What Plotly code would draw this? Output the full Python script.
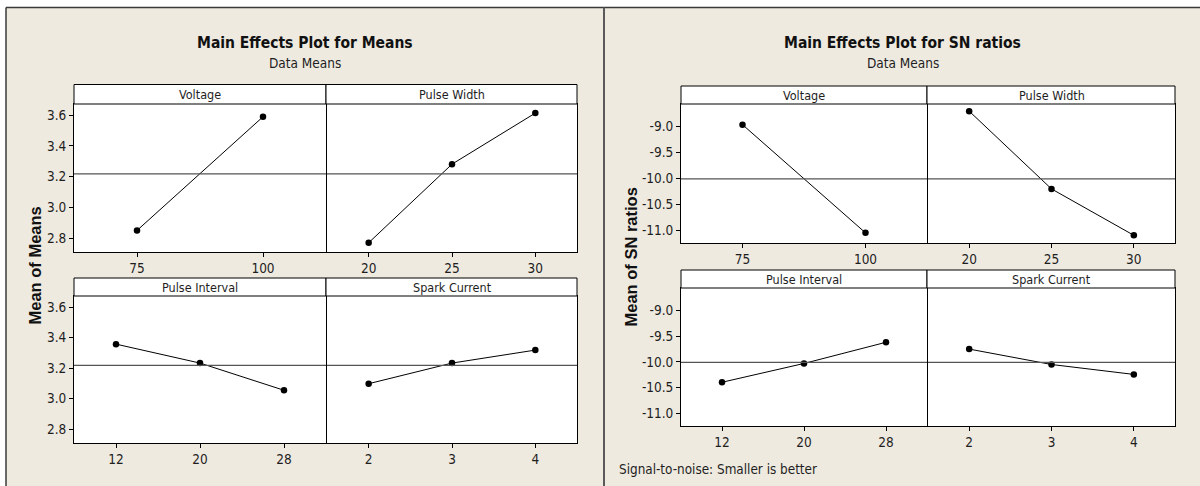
import numpy as np
import plotly.graph_objects as go

W, H = 1200, 486

# ---------------- data ----------------
factors = ["Voltage", "Pulse Width", "Pulse Interval", "Spark Current"]
voltage_levels = ["75", "100"]
pulse_width_levels = ["20", "25", "30"]
pulse_interval_levels = ["12", "20", "28"]
spark_current_levels = ["2", "3", "4"]

means_voltage = [2.850, 3.589]
means_pulse_width = [2.770, 3.281, 3.613]
means_pulse_interval = [3.357, 3.233, 3.055]
means_spark_current = [3.098, 3.233, 3.318]

sn_voltage = [-8.967, -11.045]
sn_pulse_width = [-8.707, -10.201, -11.092]
sn_pulse_interval = [-10.394, -10.030, -9.620]
sn_spark_current = [-9.752, -10.050, -10.242]

means_y_ticks = [2.8, 3.0, 3.2, 3.4, 3.6]
sn_y_ticks = [-11.0, -10.5, -10.0, -9.5, -9.0]

left_title = "Main Effects Plot for Means"
right_title = "Main Effects Plot for SN ratios"
subtitle = "Data Means"
left_ytitle = "Mean of Means"
right_ytitle = "Mean of SN ratios"
footnote = "Signal-to-noise: Smaller is better"

levels = [voltage_levels, pulse_width_levels, pulse_interval_levels, spark_current_levels]
means_all = [means_voltage, means_pulse_width, means_pulse_interval, means_spark_current]
sn_all = [sn_voltage, sn_pulse_width, sn_pulse_interval, sn_spark_current]

grand_means = float(np.mean([np.mean(v) for v in means_all]))
grand_sn = float(np.mean([np.mean(v) for v in sn_all]))

# ---------------- layout helpers ----------------
def fx(px):
    return px / W

def fy(py):
    return 1 - py / H

NARROW = "DejaVu Sans Condensed, DejaVu Sans, sans-serif"
BOLD_SANS = "Liberation Sans, Arial, sans-serif"
BG = "#EEEAE0"
TXT = "#1e1e1e"

# chart geometry in pixels: columns (x0,x1) and rows (header_top, plot_top, plot_bottom)
charts = [
    dict(cols=[(74, 326), (327, 577)],
         rows=[(84.5, 104, 252), (278, 296, 443)],
         data=means_all, yrange=[2.71, 3.672], yticks=means_y_ticks, ref=grand_means),
    dict(cols=[(681, 927), (928, 1175)],
         rows=[(86, 104, 243), (270, 288, 426)],
         data=sn_all, yrange=[-11.24, -8.57], yticks=sn_y_ticks, ref=grand_sn),
]

fig = go.Figure()
layout = {}
shapes = []
annotations = []

# white strips at top/left outside the beige window
shapes.append(dict(type="rect", xref="paper", yref="paper", x0=0, x1=1, y0=fy(7.5), y1=1,
                   fillcolor="white", line=dict(width=0), layer="below"))
shapes.append(dict(type="rect", xref="paper", yref="paper", x0=0, x1=fx(6), y0=0, y1=1,
                   fillcolor="white", line=dict(width=0), layer="below"))
# window borders
shapes.append(dict(type="line", xref="paper", yref="paper", x0=fx(6), x1=1, y0=fy(7.5), y1=fy(7.5),
                   line=dict(color="#3a3a3a", width=1.5)))
shapes.append(dict(type="line", xref="paper", yref="paper", x0=fx(6), x1=fx(6), y0=0, y1=fy(7.5),
                   line=dict(color="#3a3a3a", width=1.5)))
shapes.append(dict(type="line", xref="paper", yref="paper", x0=fx(604), x1=fx(604), y0=0, y1=fy(7.5),
                   line=dict(color="#5a5a5a", width=2)))

ax = 0
for chart in charts:
    for r, (htop, ptop, pbot) in enumerate(chart["rows"]):
        for c, (x0, x1) in enumerate(chart["cols"]):
            k = r * 2 + c
            ax += 1
            xa = "x" if ax == 1 else f"x{ax}"
            ya = "y" if ax == 1 else f"y{ax}"
            xkey = "xaxis" if ax == 1 else f"xaxis{ax}"
            ykey = "yaxis" if ax == 1 else f"yaxis{ax}"
            lv = levels[k]
            vals = chart["data"][k]
            fig.add_trace(go.Scatter(
                x=lv, y=vals, xaxis=xa, yaxis=ya, mode="lines+markers",
                line=dict(color="black", width=1),
                marker=dict(color="black", size=6.5, symbol="circle"),
                showlegend=False, hoverinfo="x+y"))
            layout[xkey] = dict(
                domain=[fx(x0), fx(x1)], anchor=ya, type="category",
                categoryorder="array", categoryarray=lv,
                range=[-0.5, len(lv) - 0.5],
                showline=True, mirror=True, linecolor="black", linewidth=1,
                ticks="outside", ticklen=4, tickcolor="black", tickwidth=1,
                tickfont=dict(family=NARROW, size=13.5, color=TXT),
                showgrid=False, zeroline=False, fixedrange=True)
            ytxt = [f"{v:.1f}" for v in chart["yticks"]]
            layout[ykey] = dict(
                domain=[fy(pbot), fy(ptop)], anchor=xa, range=chart["yrange"],
                tickvals=chart["yticks"], ticktext=ytxt,
                showticklabels=(c == 0), ticks=("outside" if c == 0 else ""),
                ticklen=4, tickcolor="black", tickwidth=1,
                showline=True, mirror=True, linecolor="black", linewidth=1,
                tickfont=dict(family=NARROW, size=13.5, color=TXT),
                showgrid=False, zeroline=False, fixedrange=True)
            # header box
            shapes.append(dict(type="rect", xref="paper", yref="paper",
                               x0=fx(x0 - (1 if c == 1 else 0)), x1=fx(x1), y0=fy(ptop), y1=fy(htop),
                               fillcolor="white", line=dict(color="black", width=1)))
            annotations.append(dict(xref="paper", yref="paper", x=fx((x0 + x1) / 2),
                                    y=fy((htop + ptop) / 2), text=factors[k], showarrow=False,
                                    xanchor="center", yanchor="middle",
                                    font=dict(family=NARROW, size=12.5, color=TXT)))
            # reference (grand mean) line
            shapes.append(dict(type="line", xref=f"{xa} domain", yref=ya, x0=0, x1=1,
                               y0=chart["ref"], y1=chart["ref"],
                               line=dict(color="#555555", width=1.2)))

# titles
for txt, cx in [(left_title, 305), (right_title, 902)]:
    annotations.append(dict(xref="paper", yref="paper", x=fx(cx), y=fy(43),
                            text=f"<b>{txt}</b>", showarrow=False, xanchor="center",
                            yanchor="middle", font=dict(family=NARROW, size=15.5, color="#111")))
for cx in [305, 902.5]:
    annotations.append(dict(xref="paper", yref="paper", x=fx(cx), y=fy(63.5),
                            text=subtitle, showarrow=False, xanchor="center",
                            yanchor="middle", font=dict(family=NARROW, size=13.5, color=TXT)))
# y titles
annotations.append(dict(xref="paper", yref="paper", x=fx(34), y=fy(265.5),
                        text=f"<b>{left_ytitle}</b>", textangle=-90, showarrow=False,
                        xanchor="center", yanchor="middle",
                        font=dict(family=BOLD_SANS, size=16.5, color="#111")))
annotations.append(dict(xref="paper", yref="paper", x=fx(630), y=fy(257.5),
                        text=f"<b>{right_ytitle}</b>", textangle=-90, showarrow=False,
                        xanchor="center", yanchor="middle",
                        font=dict(family=BOLD_SANS, size=16.5, color="#111")))
# footnote
annotations.append(dict(xref="paper", yref="paper", x=fx(617), y=fy(469.7),
                        text=footnote, showarrow=False, xanchor="left", yanchor="middle",
                        font=dict(family=NARROW, size=13.4, color=TXT)))

fig.update_layout(
    width=W, height=H, margin=dict(l=0, r=0, t=0, b=0),
    paper_bgcolor=BG, plot_bgcolor="white",
    shapes=shapes, annotations=annotations, showlegend=False,
    **layout)

fig.write_html("out.html", config={"displayModeBar": False},
               post_script="document.body.style.margin='0px';document.body.style.overflow='hidden';")
